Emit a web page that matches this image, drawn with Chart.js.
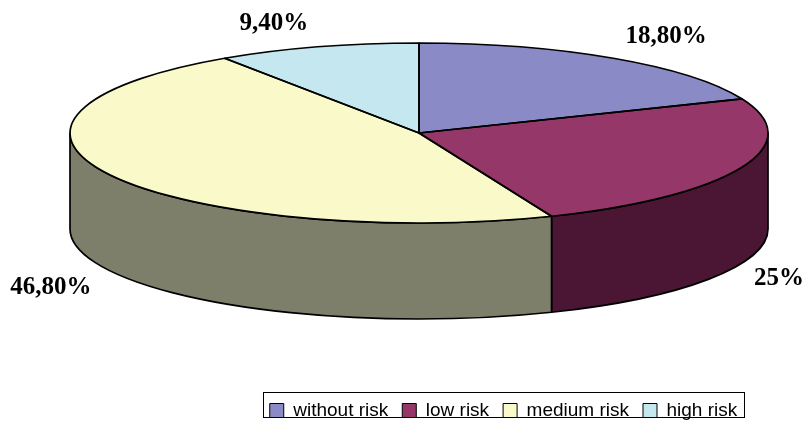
<!DOCTYPE html>
<html>
<head>
<meta charset="utf-8">
<title>Risk distribution</title>
<script src="https://cdn.jsdelivr.net/npm/chart.js@4/dist/chart.umd.min.js"></script>
<style>
  html, body { margin: 0; padding: 0; background: #ffffff; }
  #wrap { width: 809px; height: 421px; }
</style>
</head>
<body>
<div id="wrap"><canvas id="chart" width="809" height="421"></canvas></div>
<script>
// Categories and shares (percent)
const categories = ['without risk', 'low risk', 'medium risk', 'high risk'];
const shares = [18.8, 25, 46.8, 9.4];

// Slice colours: top face and side wall
const topColors  = ['#8A8AC6', '#963769', '#FAF9CA', '#C4E7F0'];
const sideColors = ['#45456A', '#4A1634', '#7E7F6B', '#627480'];

// Geometry of the tilted disc (px)
const PIE = { cx: 419, cy: 133, rx: 349, ry: 90, depth: 96 };
// Radii of the ring where value labels sit, and small per-label nudges
const LABEL_RING = { x: 440, y: 115 };
const labelNudge = [[2, -1], [-46, 5], [20, 4], [-17, 1]];

function fmtShare(v) {
  return (Number.isInteger(v) ? String(v) : v.toFixed(2).replace('.', ',')) + '%';
}

const pie3d = {
  id: 'pie3d',
  beforeDatasetsDraw(chart) {
    const ctx = chart.ctx;
    const meta = chart.getDatasetMeta(0);
    const { cx, cy, rx, ry, depth } = PIE;
    // front side walls (visible part of each slice between 0 and PI)
    meta.data.forEach((arc, i) => {
      const s = Math.max(arc.startAngle, 0);
      const e = Math.min(arc.endAngle, Math.PI);
      if (e <= s) return;
      ctx.save();
      ctx.beginPath();
      ctx.ellipse(cx, cy, rx, ry, 0, s, e);
      ctx.ellipse(cx, cy + depth, rx, ry, 0, e, s, true);
      ctx.closePath();
      ctx.fillStyle = sideColors[i];
      ctx.fill();
      ctx.lineWidth = 1.7;
      ctx.lineJoin = 'round';
      ctx.strokeStyle = '#000';
      ctx.stroke();
      ctx.restore();
    });
    // squash the library's circular slices onto the ellipse
    const a = meta.data[0];
    ctx.save();
    ctx.translate(cx, cy);
    ctx.scale(rx / a.outerRadius, ry / a.outerRadius);
    ctx.translate(-a.x, -a.y);
  },
  afterDatasetsDraw(chart) {
    const ctx = chart.ctx;
    ctx.restore();
    const meta = chart.getDatasetMeta(0);
    const { cx, cy, rx, ry, depth } = PIE;
    // slice outlines on the top face
    ctx.save();
    ctx.lineWidth = 1.7;
    ctx.lineJoin = 'round';
    ctx.strokeStyle = '#000';
    meta.data.forEach(arc => {
      ctx.beginPath();
      ctx.moveTo(cx, cy);
      ctx.ellipse(cx, cy, rx, ry, 0, arc.startAngle, arc.endAngle);
      ctx.closePath();
      ctx.stroke();
    });
    ctx.restore();
    // value labels
    const values = chart.data.datasets[0].data;
    ctx.save();
    ctx.font = 'bold 25px "Liberation Serif", "Times New Roman", serif';
    ctx.fillStyle = '#000';
    ctx.textAlign = 'center';
    ctx.textBaseline = 'middle';
    meta.data.forEach((arc, i) => {
      const mid = (arc.startAngle + arc.endAngle) / 2;
      const sn = Math.sin(mid);
      const x = cx + LABEL_RING.x * Math.cos(mid) + labelNudge[i][0];
      const y = cy + LABEL_RING.y * sn + (sn > 0 ? depth : 0) + labelNudge[i][1];
      ctx.fillText(fmtShare(values[i]), x, y);
    });
    ctx.restore();
  },
  afterDraw(chart) {
    // frame around the legend
    const lg = chart.legend;
    if (!lg || !lg.legendHitBoxes || !lg.legendHitBoxes.length) return;
    const hb = lg.legendHitBoxes;
    const left = Math.min(...hb.map(h => h.left)) - 7;
    const right = Math.max(...hb.map(h => h.left + h.width)) + 6;
    const midY = hb[0].top + hb[0].height / 2;
    const ctx = chart.ctx;
    ctx.save();
    ctx.strokeStyle = '#000';
    ctx.lineWidth = 1;
    ctx.strokeRect(Math.round(left) + 0.5, Math.round(midY - 19) + 0.5,
                   Math.round(right - left), 25);
    ctx.restore();
  }
};

new Chart(document.getElementById('chart'), {
  type: 'pie',
  data: {
    labels: categories,
    datasets: [{
      data: shares,
      backgroundColor: topColors,
      borderWidth: 0,
      clip: false
    }]
  },
  options: {
    responsive: false,
    animation: false,
    events: [],
    layout: { padding: { left: 198, right: 0, top: 0, bottom: -9 } },
    plugins: {
      tooltip: { enabled: false },
      legend: {
        position: 'bottom',
        align: 'center',
        labels: {
          boxWidth: 14,
          boxHeight: 14,
          padding: 14,
          color: '#000',
          font: { family: '"Liberation Sans", Arial, sans-serif', size: 19 },
          generateLabels(chart) {
            const ds = chart.data.datasets[0];
            return chart.data.labels.map((t, i) => ({
              text: t,
              fillStyle: ds.backgroundColor[i],
              strokeStyle: '#000',
              lineWidth: 1,
              hidden: false,
              index: i,
              fontColor: '#000'
            }));
          }
        }
      }
    }
  },
  plugins: [pie3d]
});
</script>
</body>
</html>
